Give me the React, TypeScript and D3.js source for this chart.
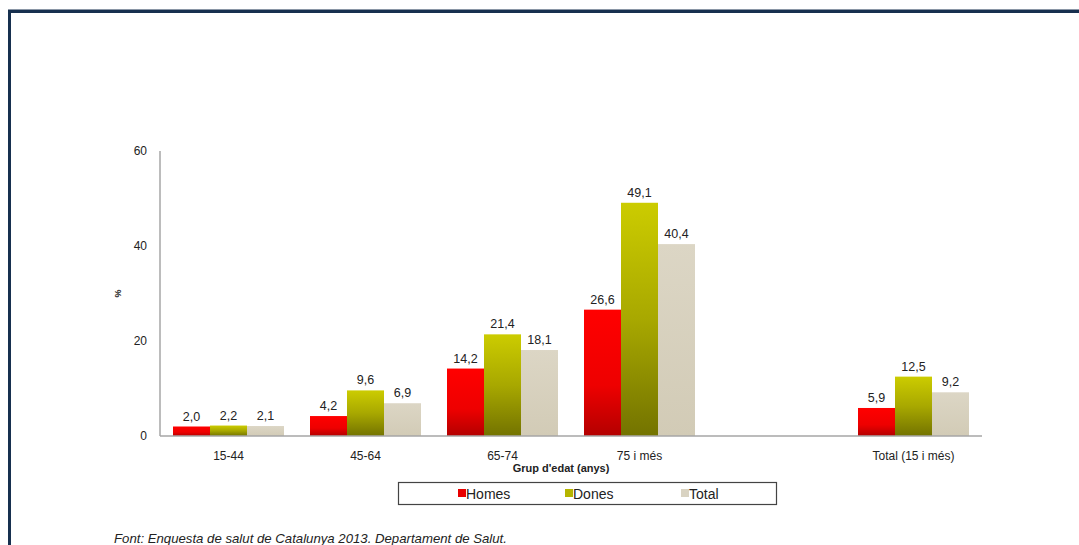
import React from "react";
import * as d3 from "d3";

const slots = ["15-44", "45-64", "65-74", "75 i més", "__gap__", "Total (15 i més)"];
const categories = ["15-44", "45-64", "65-74", "75 i més", "Total (15 i més)"];
const seriesNames = ["Homes", "Dones", "Total"];
const homes = [2.0, 4.2, 14.2, 26.6, 5.9];
const dones = [2.2, 9.6, 21.4, 49.1, 12.5];
const total = [2.1, 6.9, 18.1, 40.4, 9.2];
const yTicks = [0, 20, 40, 60];

const W = 1079;
const H = 545;

export default function App() {
  const x = d3.scaleBand<string>().domain(slots).range([160, 982]).padding(0);
  const inner = d3
    .scaleBand<string>()
    .domain(seriesNames)
    .range([13, x.bandwidth() - 13])
    .padding(0);
  const y = d3.scaleLinear().domain([0, 60]).range([436, 151]);
  const locale = d3.formatLocale({ decimal: ",", thousands: ".", grouping: [3], currency: ["", "€"] });
  const fmt = locale.format(".1f");
  const series = [homes, dones, total];
  const fills = ["url(#gRed)", "url(#gGreen)", "url(#gBeige)"];
  const swatch = ["#e80000", "#b5b500", "#d9d3c2"];
  const font = "Arial, 'Liberation Sans', sans-serif";

  return (
    <svg width={W} height={H} style={{ position: "absolute", left: 0, top: 0 }} fontFamily={font}>
      <defs>
        <linearGradient id="gRed" x1="0" y1="0" x2="0" y2="1">
          <stop offset="0" stopColor="#ff0000" />
          <stop offset="0.6" stopColor="#ee0000" />
          <stop offset="1" stopColor="#b30000" />
        </linearGradient>
        <linearGradient id="gGreen" x1="0" y1="0" x2="0" y2="1">
          <stop offset="0" stopColor="#cccc00" />
          <stop offset="0.5" stopColor="#a8a800" />
          <stop offset="1" stopColor="#737300" />
        </linearGradient>
        <linearGradient id="gBeige" x1="0" y1="0" x2="0" y2="1">
          <stop offset="0" stopColor="#dcd6c5" />
          <stop offset="1" stopColor="#d2cbb6" />
        </linearGradient>
      </defs>
      <rect x={0} y={0} width={W} height={H} fill="#ffffff" />
      {/* frame */}
      <line x1={8} y1={9.5} x2={W} y2={9.5} stroke="#8a96a6" strokeWidth={1} />
      <line x1={8} y1={11.5} x2={W} y2={11.5} stroke="#17304f" strokeWidth={3} />
      <line x1={9.5} y1={10} x2={9.5} y2={H} stroke="#17304f" strokeWidth={3} />

      {/* y axis */}
      <line x1={160} y1={y(60)} x2={160} y2={y(0)} stroke="#a6a6a6" strokeWidth={1.5} />
      {yTicks.map((t) => (
        <text key={t} x={147} y={y(t) + 4} textAnchor="end" fontSize={12} fill="#222">
          {t}
        </text>
      ))}
      <text
        transform={`translate(121,${(y(60) + y(0)) / 2}) rotate(-90)`}
        textAnchor="middle"
        fontSize={9}
        fontWeight="bold"
        fill="#222"
      >
        %
      </text>

      {/* bars */}
      {categories.map((c, ci) => {
        const slot = ci < 4 ? slots[ci] : slots[5];
        const x0 = x(slot)!;
        return (
          <g key={c}>
            {series.map((s, si) => {
              const bx = x0 + inner(seriesNames[si])!;
              const by = y(s[ci]);
              return (
                <g key={si}>
                  <rect x={bx} y={by} width={inner.bandwidth()} height={y(0) - by} fill={fills[si]} />
                  <text
                    x={bx + inner.bandwidth() / 2}
                    y={by - 6}
                    textAnchor="middle"
                    fontSize={12.5}
                    fill="#222"
                  >
                    {fmt(s[ci])}
                  </text>
                </g>
              );
            })}
            <text x={x0 + x.bandwidth() / 2} y={460} textAnchor="middle" fontSize={12} fill="#222">
              {c}
            </text>
          </g>
        );
      })}

      {/* x axis */}
      <line x1={160} y1={y(0)} x2={982} y2={y(0)} stroke="#a6a6a6" strokeWidth={1.5} />
      <text x={561} y={472} textAnchor="middle" fontSize={11} fontWeight="bold" fill="#222">
        Grup d'edat (anys)
      </text>

      {/* legend */}
      <rect x={398.5} y={482.5} width={378} height={22} fill="none" stroke="#444" strokeWidth={1.2} />
      {seriesNames.map((n, i) => {
        const lx = [458, 565, 681][i];
        return (
          <g key={n}>
            <rect x={lx} y={489} width={8} height={8} fill={swatch[i]} />
            <text x={lx + 8} y={499} fontSize={14} fill="#222">
              {n}
            </text>
          </g>
        );
      })}

      <text x={114} y={543} fontSize={13.2} fontStyle="italic" fill="#222">
        Font: Enquesta de salut de Catalunya 2013. Departament de Salut.
      </text>
    </svg>
  );
}
